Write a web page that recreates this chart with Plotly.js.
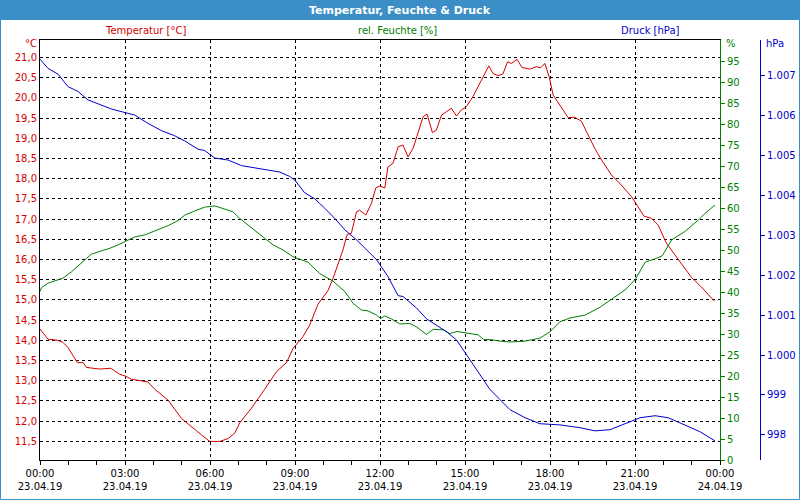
<!DOCTYPE html>
<html>
<head>
<meta charset="utf-8">
<script src="https://cdn.plot.ly/plotly-3.0.1.min.js"></script>
<style>html,body{margin:0;padding:0;background:#fff;}#chart{width:800px;height:500px;}</style>
</head>
<body>
<div id="chart"></div>
<script>
// Hours since 23.04.19 00:00
var tempTime = [0,0.28,0.64,0.81,0.99,1.32,1.52,1.64,2.11,2.5,2.81,3.0,3.22,3.81,4.05,4.52,4.99,5.34,5.70,5.99,6.34,6.64,6.87,7.05,7.46,7.93,8.11,8.34,8.70,8.93,9.28,9.52,9.81,10.17,10.34,10.52,10.69,10.84,10.99,11.17,11.28,11.50,11.70,11.85,11.99,12.17,12.28,12.46,12.64,12.81,12.99,13.17,13.34,13.52,13.66,13.85,13.99,14.17,14.52,14.70,14.87,15.05,15.28,15.58,15.84,15.99,16.17,16.34,16.50,16.64,16.84,17.01,17.29,17.52,17.67,17.82,17.97,18.11,18.34,18.64,18.87,19.11,19.29,19.58,19.82,20.17,20.52,20.88,21.11,21.32,21.58,21.82,22.11,22.29,22.6,23.0,23.3,23.8];
var tempVals = [14.28,14.03,14.0,13.95,13.82,13.45,13.45,13.33,13.29,13.31,13.16,13.12,13.04,12.97,12.79,12.52,12.07,11.86,11.66,11.5,11.5,11.57,11.70,11.96,12.32,12.79,12.97,13.22,13.45,13.80,14.09,14.38,14.89,15.24,15.53,15.90,16.23,16.62,16.65,17.18,17.22,17.10,17.39,17.77,17.82,17.77,18.29,18.38,18.79,18.83,18.54,18.75,19.16,19.53,19.60,19.14,19.20,19.57,19.74,19.55,19.70,19.78,20.03,20.44,20.79,20.60,20.55,20.59,20.89,20.85,20.95,20.75,20.71,20.77,20.74,20.85,20.52,20.07,19.82,19.51,19.52,19.42,19.16,18.75,18.46,18.09,17.84,17.55,17.30,17.07,17.02,16.85,16.40,16.23,15.94,15.55,15.35,14.97];

var humTime = [0,0.05,0.28,0.52,0.81,1.11,1.40,1.58,1.81,2.17,2.46,2.75,3.0,3.34,3.70,4.17,4.52,4.87,5.11,5.46,5.81,6.17,6.46,6.81,7.05,7.46,7.91,8.23,8.58,8.93,9.46,9.87,10.34,10.76,11.05,11.35,11.58,11.88,12.02,12.17,12.40,12.70,13.05,13.29,13.64,13.88,14.23,14.46,14.72,15.05,15.46,15.66,15.87,16.24,16.59,17.12,17.64,17.99,18.35,18.70,19.24,19.77,20.30,20.65,21.0,21.36,21.71,21.96,22.29,22.76,23.23,23.47,23.82];
var humVals = [40.1,41.0,42.1,42.6,43.3,44.8,46.6,47.6,49.0,49.8,50.4,51.2,52.0,53.1,53.6,54.8,55.8,57.0,58.3,59.3,60.2,60.5,59.9,59.1,57.5,55.3,52.9,51.2,50.0,48.4,47.1,44.4,42.6,40.1,37.3,35.7,35.5,34.5,33.7,34.3,33.6,32.4,32.5,31.7,29.9,31.1,31.0,30.1,30.6,30.2,29.8,28.7,28.7,28.3,28.1,28.3,29.0,30.5,32.9,33.8,34.5,36.4,38.8,40.5,42.9,47.1,47.9,48.6,52.4,54.4,57.1,58.7,60.7];

var presTime = [0,0.28,0.64,0.99,1.34,1.69,2.05,2.52,3.0,3.34,3.81,4.28,4.75,5.11,5.58,5.81,6.17,6.64,7.11,7.58,7.93,8.46,8.81,8.99,9.34,9.70,10.05,10.40,10.76,11.17,11.50,11.88,12.28,12.64,12.81,13.29,13.64,13.99,14.34,14.70,15.05,15.40,15.87,16.24,16.59,17.12,17.64,18.35,19.06,19.59,20.12,20.65,21.18,21.71,22.17,22.59,23.01,23.29,23.82];
var presVals = [1007.42,1007.19,1007.04,1006.73,1006.61,1006.40,1006.30,1006.17,1006.08,1006.02,1005.81,1005.63,1005.50,1005.37,1005.16,1005.13,1004.94,1004.89,1004.75,1004.69,1004.66,1004.59,1004.48,1004.39,1004.07,1003.92,1003.68,1003.43,1003.14,1002.89,1002.66,1002.39,1001.97,1001.49,1001.47,1001.18,1000.91,1000.76,1000.59,1000.38,1000.01,999.63,999.15,998.88,998.63,998.43,998.28,998.25,998.18,998.10,998.13,998.28,998.43,998.48,998.43,998.30,998.18,998.08,997.85];

var xTickVals = [0,3,6,9,12,15,18,21,24];
var xTickText = ['00:00<br>23.04.19','03:00<br>23.04.19','06:00<br>23.04.19','09:00<br>23.04.19','12:00<br>23.04.19','15:00<br>23.04.19','18:00<br>23.04.19','21:00<br>23.04.19','00:00<br>24.04.19'];
var tempTickVals = [11.5,12.0,12.5,13.0,13.5,14.0,14.5,15.0,15.5,16.0,16.5,17.0,17.5,18.0,18.5,19.0,19.5,20.0,20.5,21.0];
var tempTickText = ['11,5','12,0','12,5','13,0','13,5','14,0','14,5','15,0','15,5','16,0','16,5','17,0','17,5','18,0','18,5','19,0','19,5','20,0','20,5','21,0'];
var humTickVals = [0,5,10,15,20,25,30,35,40,45,50,55,60,65,70,75,80,85,90,95];
var presTickVals = [998,999,1000,1001,1002,1003,1004,1005,1006,1007];
var presTickText = ['998','999','1.000','1.001','1.002','1.003','1.004','1.005','1.006','1.007'];

var RED = '#d40000', GREEN = '#008000', BLUE = '#0000cc', BAR = '#3c8fc6';
var FONT = 'DejaVu Sans, Verdana, sans-serif';

var traces = [
  {x: tempTime, y: tempVals, type: 'scatter', mode: 'lines', line: {color: RED, width: 1}, yaxis: 'y', hoverinfo: 'skip'},
  {x: humTime, y: humVals, type: 'scatter', mode: 'lines', line: {color: GREEN, width: 1}, yaxis: 'y2', hoverinfo: 'skip'},
  {x: presTime, y: presVals, type: 'scatter', mode: 'lines', line: {color: BLUE, width: 1}, yaxis: 'y3', hoverinfo: 'skip'}
];

// pixel -> paper helpers (margins l=40, r=20, t=40, b=40)
function px(x){ return (x - 40) / 740; }
function py(y){ return (460 - y) / 420; }

var layout = {
  width: 800, height: 500,
  margin: {l: 40, r: 20, t: 40, b: 40, pad: 0},
  paper_bgcolor: '#ffffff', plot_bgcolor: '#ffffff',
  showlegend: false,
  font: {family: FONT, size: 10, color: '#000'},
  xaxis: {
    domain: [0, 680/740], range: [0, 24],
    tickmode: 'array', tickvals: xTickVals, ticktext: xTickText,
    ticks: 'outside', ticklen: 4, tickcolor: '#000',
    minor: {tickmode: 'linear', tick0: 0, dtick: 1, ticks: 'outside', ticklen: 4, tickcolor: '#000', showgrid: false},
    showgrid: true, gridcolor: '#000', gridwidth: 1, griddash: '3px,3px',
    showline: true, linecolor: '#000', linewidth: 1, mirror: true,
    zeroline: false, tickfont: {family: FONT, size: 10, color: '#000'}
  },
  yaxis: {
    range: [11.04, 21.43],
    tickmode: 'array', tickvals: tempTickVals, ticktext: tempTickText,
    ticks: '', showgrid: true, gridcolor: '#000', gridwidth: 1, griddash: '3px,3px',
    showline: true, linecolor: '#000', linewidth: 1, zeroline: false,
    tickfont: {family: FONT, size: 10, color: RED}
  },
  yaxis2: {
    overlaying: 'y', side: 'right', anchor: 'x', range: [0, 100],
    tickmode: 'array', tickvals: humTickVals,
    ticks: 'outside', ticklen: 4, tickcolor: GREEN,
    showline: true, linecolor: GREEN, linewidth: 1, showgrid: false, zeroline: false,
    tickfont: {family: FONT, size: 10, color: GREEN}
  },
  yaxis3: {
    overlaying: 'y', side: 'right', anchor: 'free', position: 720/740,
    range: [997.37, 1007.90],
    tickmode: 'array', tickvals: presTickVals, ticktext: presTickText,
    ticks: 'outside', ticklen: 4, tickcolor: BLUE,
    showline: true, linecolor: BLUE, linewidth: 1, showgrid: false, zeroline: false,
    tickfont: {family: FONT, size: 10, color: BLUE}
  },
  shapes: [
    {type: 'rect', xref: 'paper', yref: 'paper', x0: px(0), x1: px(800), y0: py(20), y1: py(0), fillcolor: BAR, line: {width: 0}, layer: 'below'},
    {type: 'rect', xref: 'paper', yref: 'paper', x0: px(0.5), x1: px(799.5), y0: py(499.5), y1: py(0.5), line: {color: BAR, width: 1}, layer: 'below'}
  ],
  annotations: [
    {text: '<b>Temperatur, Feuchte &amp; Druck</b>', xref: 'paper', yref: 'paper', x: px(400), y: py(10), xanchor: 'center', yanchor: 'middle', showarrow: false, font: {family: FONT, size: 11, color: '#ffffff'}},
    {text: 'Temperatur [°C]', xref: 'paper', yref: 'paper', x: px(145), y: py(30), xanchor: 'center', yanchor: 'middle', showarrow: false, font: {family: FONT, size: 10, color: RED}},
    {text: 'rel. Feuchte [%]', xref: 'paper', yref: 'paper', x: px(397), y: py(30), xanchor: 'center', yanchor: 'middle', showarrow: false, font: {family: FONT, size: 10, color: GREEN}},
    {text: 'Druck [hPa]', xref: 'paper', yref: 'paper', x: px(650), y: py(30), xanchor: 'center', yanchor: 'middle', showarrow: false, font: {family: FONT, size: 10, color: BLUE}},
    {text: '°C', xref: 'paper', yref: 'paper', x: px(39), y: py(44), xanchor: 'right', yanchor: 'middle', showarrow: false, font: {family: FONT, size: 10, color: RED}},
    {text: '%', xref: 'paper', yref: 'paper', x: px(724), y: py(44), xanchor: 'left', yanchor: 'middle', showarrow: false, font: {family: FONT, size: 10, color: GREEN}},
    {text: 'hPa', xref: 'paper', yref: 'paper', x: px(764), y: py(44), xanchor: 'left', yanchor: 'middle', showarrow: false, font: {family: FONT, size: 10, color: BLUE}}
  ]
};

Plotly.newPlot('chart', traces, layout, {staticPlot: true, displayModeBar: false});
</script>
</body>
</html>
